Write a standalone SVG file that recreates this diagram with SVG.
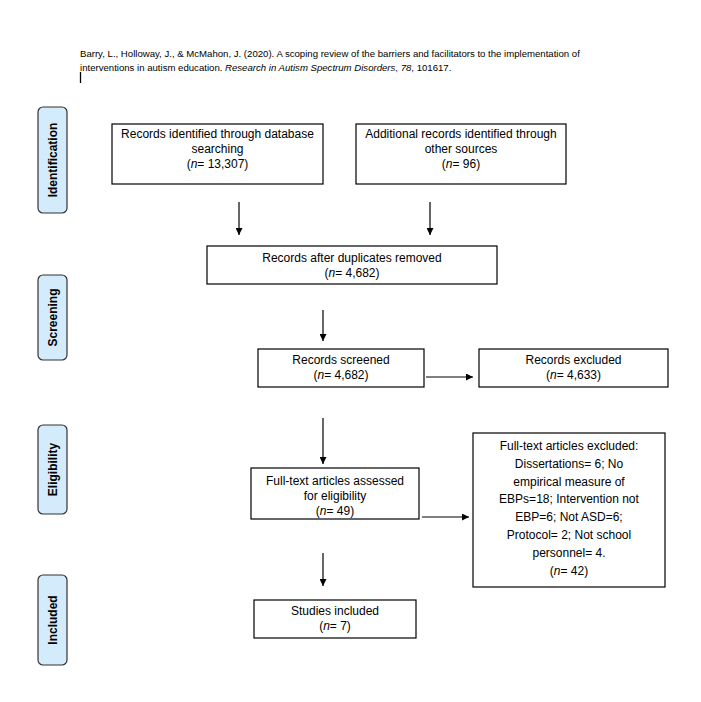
<svg xmlns="http://www.w3.org/2000/svg" width="701" height="702" viewBox="0 0 701 702">
<style>
.box{fill:#fff;stroke:#000;stroke-width:1.2}
.tab{fill:#d3ebfb;stroke:#333;stroke-width:1.2}
.t{font-family:"Liberation Sans",Arial,sans-serif;font-size:12px;fill:#000;text-anchor:middle}
.tl{font-family:"Liberation Sans",Arial,sans-serif;font-size:12px;font-weight:bold;fill:#000;text-anchor:middle}
.cit{font-family:"Liberation Sans",Arial,sans-serif;font-size:9.6px;fill:#000}
.c{stroke:#000;stroke-width:1.2;fill:none;marker-end:url(#ah)}
</style>
<defs>
<marker id="ah" viewBox="0 0 10 10" refX="10" refY="5" markerWidth="7" markerHeight="7" markerUnits="userSpaceOnUse" orient="auto">
<path d="M0,0 L10,5 L0,10 z" fill="#000"/>
</marker>
</defs>
<rect width="701" height="702" fill="#fff"/>
<g id="citation">
<text class="cit" x="80" y="57">Barry, L., Holloway, J., &amp; McMahon, J. (2020). A scoping review of the barriers and facilitators to the implementation of</text>
<text class="cit" x="80" y="70.5">interventions in autism education. <tspan font-style="italic">Research in Autism Spectrum Disorders</tspan>, <tspan font-style="italic">78</tspan>, 101617.</text>
<line x1="80.5" y1="72" x2="80.5" y2="83" stroke="#000" stroke-width="1.3"/>
</g>
<g id="tab-identification">
<rect class="tab" x="38" y="107" width="29" height="106" rx="5"/>
<text class="tl" transform="translate(57,160) rotate(-90)">Identification</text>
</g>
<g id="tab-screening">
<rect class="tab" x="38" y="275" width="29" height="85" rx="5"/>
<text class="tl" transform="translate(57,317.5) rotate(-90)">Screening</text>
</g>
<g id="tab-eligibility">
<rect class="tab" x="38" y="425" width="29" height="89" rx="5"/>
<text class="tl" transform="translate(57,469.5) rotate(-90)">Eligibility</text>
</g>
<g id="tab-included">
<rect class="tab" x="38" y="575" width="29" height="90" rx="5"/>
<text class="tl" transform="translate(57,620) rotate(-90)">Included</text>
</g>
<g id="n-db">
<rect class="box" x="112" y="124" width="211" height="60"/>
<text class="t" x="217.5" y="138">Records identified through database</text>
<text class="t" x="217.5" y="153">searching</text>
<text class="t" x="217.5" y="168">(<tspan font-style="italic">n</tspan>= 13,307)</text>
</g>
<g id="n-other">
<rect class="box" x="356" y="124" width="210" height="60"/>
<text class="t" x="461" y="138">Additional records identified through</text>
<text class="t" x="461" y="153">other sources</text>
<text class="t" x="461" y="168">(<tspan font-style="italic">n</tspan>= 96)</text>
</g>
<g id="n-dup">
<rect class="box" x="207" y="246" width="290" height="38"/>
<text class="t" x="352" y="262">Records after duplicates removed</text>
<text class="t" x="352" y="277">(<tspan font-style="italic">n</tspan>= 4,682)</text>
</g>
<g id="n-screened">
<rect class="box" x="258" y="349" width="166" height="38"/>
<text class="t" x="341" y="364">Records screened</text>
<text class="t" x="341" y="379">(<tspan font-style="italic">n</tspan>= 4,682)</text>
</g>
<g id="n-excluded">
<rect class="box" x="479" y="349" width="189" height="38"/>
<text class="t" x="573.5" y="364">Records excluded</text>
<text class="t" x="573.5" y="379">(<tspan font-style="italic">n</tspan>= 4,633)</text>
</g>
<g id="n-fulltext">
<rect class="box" x="251" y="468" width="168" height="51"/>
<text class="t" x="335" y="485">Full-text articles assessed</text>
<text class="t" x="335" y="500">for eligibility</text>
<text class="t" x="335" y="515">(<tspan font-style="italic">n</tspan>= 49)</text>
</g>
<g id="n-ftexcluded">
<rect class="box" x="473" y="433" width="192" height="154"/>
<text class="t" x="569" y="450">Full-text articles excluded:</text>
<text class="t" x="569" y="467.8">Dissertations= 6; No</text>
<text class="t" x="569" y="485.6">empirical measure of</text>
<text class="t" x="569" y="503.4">EBPs=18; Intervention not</text>
<text class="t" x="569" y="521.2">EBP=6; Not ASD=6;</text>
<text class="t" x="569" y="539">Protocol= 2; Not school</text>
<text class="t" x="569" y="556.8">personnel= 4.</text>
<text class="t" x="569" y="574.6">(<tspan font-style="italic">n</tspan>= 42)</text>
</g>
<g id="n-included">
<rect class="box" x="254" y="600" width="162" height="38"/>
<text class="t" x="335" y="615">Studies included</text>
<text class="t" x="335" y="630">(<tspan font-style="italic">n</tspan>= 7)</text>
</g>
<g id="connectors">
<line class="c" x1="239" y1="202" x2="239" y2="235"/>
<line class="c" x1="430" y1="202" x2="430" y2="235"/>
<line class="c" x1="323" y1="310" x2="323" y2="341"/>
<line class="c" x1="426" y1="377" x2="473" y2="377"/>
<line class="c" x1="323" y1="418" x2="323" y2="464"/>
<line class="c" x1="422" y1="517" x2="469" y2="517"/>
<line class="c" x1="323" y1="553" x2="323" y2="586"/>
</g>
</svg>
